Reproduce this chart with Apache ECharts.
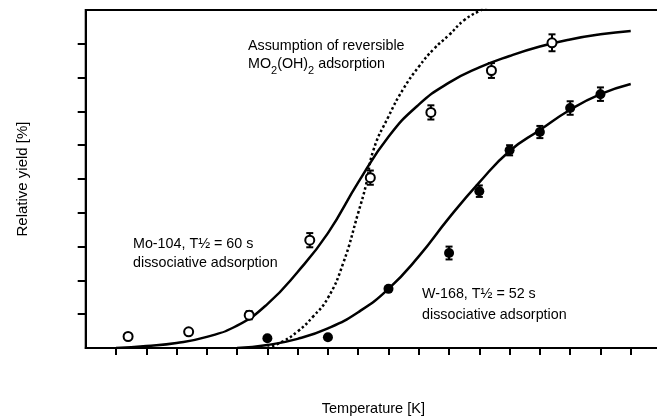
<!DOCTYPE html>
<html>
<head>
<meta charset="utf-8">
<script src="https://cdn.jsdelivr.net/npm/echarts@6/dist/echarts.min.js"></script>
<style>
  html, body { margin: 0; padding: 0; background: #fff; }
  #chart { width: 657px; height: 418px; }
</style>
</head>
<body>
<div id="chart"></div>
<script>
// measured points, Mo-104 (open circles)
var moTemp = [1.4, 3.4, 5.4, 7.4, 9.4, 11.4, 13.4, 15.4];
var moYield = [3.4, 4.8, 9.7, 31.9, 50.4, 69.7, 82.1, 90.3];
var moErr = [0, 0, 1.2, 2.1, 2.1, 2.1, 2.2, 2.5];

// measured points, W-168 (filled circles)
var wTemp = [6, 8, 10, 12, 13, 14, 15, 16, 17];
var wYield = [2.9, 3.2, 17.5, 28.1, 46.4, 58.5, 63.9, 71.0, 75.1];
var wErr = [0, 0, 0, 1.9, 1.7, 1.5, 1.8, 2.0, 2.0];

// fitted curves
var moFitT = [1, 2, 3, 4, 5, 6, 7, 8, 9, 10, 11, 12, 13, 14, 15, 16, 17, 18];
var moFitY = [0, 0.6, 1.5, 3.3, 6.6, 13, 22.5, 34, 49, 62.5, 72, 78.5, 83, 86.4, 89.2, 91.3, 92.8, 93.8];

var wFitT = [5, 6, 7, 8, 9, 10, 11, 12, 13, 14, 15, 16, 17, 18];
var wFitY = [0, 0.9, 2.7, 5.8, 10.6, 17.5, 27.1, 38.5, 49, 58.3, 64.5, 70.5, 75.1, 78.1];

var revT = [6, 6.5, 7, 7.5, 8, 8.5, 9, 9.25, 9.5, 10, 10.5, 11, 11.5, 12, 12.5, 13, 13.5];
var revY = [0, 1.9, 4.9, 9.2, 14.8, 25, 40, 48, 58.5, 68.5, 76.8, 83.2, 88.5, 92.6, 97, 99.7, 102];

var xTicks = [1, 2, 3, 4, 5, 6, 7, 8, 9, 10, 11, 12, 13, 14, 15, 16, 17, 18];
var yTicks = [10, 20, 30, 40, 50, 60, 70, 80, 90];

function pairs(xs, ys) {
    return xs.map(function (x, i) { return [x, ys[i]]; });
}
function triples(xs, ys, es) {
    return xs.map(function (x, i) { return [x, ys[i], es[i]]; });
}

function errorBar(params, api) {
    var x = api.value(0), y = api.value(1), e = api.value(2);
    if (!e) return;
    var top = api.coord([x, y + e]);
    var bot = api.coord([x, y - e]);
    var hw = 3.5;
    var st = { stroke: '#000', lineWidth: 2 };
    return {
        type: 'group',
        children: [
            { type: 'line', shape: { x1: top[0], y1: top[1], x2: bot[0], y2: bot[1] }, style: st },
            { type: 'line', shape: { x1: top[0] - hw, y1: top[1], x2: top[0] + hw, y2: top[1] }, style: st },
            { type: 'line', shape: { x1: bot[0] - hw, y1: bot[1], x2: bot[0] + hw, y2: bot[1] }, style: st }
        ]
    };
}

var font = 'Liberation Sans, Arial, sans-serif';
var chart = echarts.init(document.getElementById('chart'), null, { renderer: 'canvas' });

var option = {
    animation: false,
    backgroundColor: '#fff',
    textStyle: { fontFamily: font },
    grid: {
        left: 85.7, top: 10, width: 575.3, bottom: 70,
        outerBoundsMode: 'none', containLabel: false,
        show: true, borderColor: '#000', borderWidth: 2
    },
    xAxis: {
        type: 'value', min: 0, max: 19, interval: 1,
        name: 'Temperature [K]', nameLocation: 'middle', nameGap: 53,
        nameTextStyle: { fontSize: 14.5, color: '#000', fontFamily: font },
        axisLine: { lineStyle: { color: '#000', width: 2 } },
        axisTick: { length: 7, lineStyle: { color: '#000', width: 2 }, customValues: xTicks },
        axisLabel: { show: false },
        splitLine: { show: false }
    },
    yAxis: {
        type: 'value', min: 0, max: 100, interval: 10,
        name: 'Relative yield [%]', nameLocation: 'middle', nameGap: 55,
        nameTextStyle: { fontSize: 15, color: '#000', fontFamily: font },
        axisLine: { show: true, lineStyle: { color: '#000', width: 2 } },
        axisTick: { show: true, length: 8, lineStyle: { color: '#000', width: 2 }, customValues: yTicks },
        axisLabel: { show: false },
        splitLine: { show: false }
    },
    series: [
        {
            type: 'line', data: pairs(moFitT, moFitY), smooth: 0.5,
            showSymbol: false, lineStyle: { color: '#000', width: 2.5 }, z: 2
        },
        {
            type: 'line', data: pairs(wFitT, wFitY), smooth: 0.5,
            showSymbol: false, lineStyle: { color: '#000', width: 2.5 }, z: 2
        },
        {
            type: 'line', data: pairs(revT, revY), smooth: 0.5,
            showSymbol: false, clip: true,
            lineStyle: { color: '#000', width: 2.5, type: [2.5, 2.5] }, z: 2
        },
        { type: 'custom', renderItem: errorBar, data: triples(moTemp, moYield, moErr), z: 3 },
        { type: 'custom', renderItem: errorBar, data: triples(wTemp, wYield, wErr), z: 3 },
        {
            type: 'scatter', data: pairs(moTemp, moYield), symbol: 'circle', symbolSize: 9,
            itemStyle: { color: '#fff', borderColor: '#000', borderWidth: 2, opacity: 1 }, z: 4
        },
        {
            type: 'scatter', data: pairs(wTemp, wYield), symbol: 'circle', symbolSize: 10,
            itemStyle: { color: '#000', opacity: 1 }, z: 4
        }
    ],
    graphic: [
        {
            type: 'text', left: 248, top: 36,
            style: {
                text: 'Assumption of reversible\n{n|MO}{s|2}{n|(OH)}{s|2}{n| adsorption}',
                fontSize: 14.3, fontFamily: font, fill: '#000', lineHeight: 21,
                rich: {
                    n: { fontSize: 14.3, fontFamily: font, lineHeight: 21, verticalAlign: 'top' },
                    s: { fontSize: 11, fontFamily: font, lineHeight: 14, padding: [8, 0, 0, 0], verticalAlign: 'top' }
                }
            }
        },
        {
            type: 'text', left: 133, top: 234,
            style: { text: 'Mo-104, T\u00bd = 60 s\ndissociative adsorption', fontSize: 14.3, fontFamily: font, fill: '#000', lineHeight: 19.5 }
        },
        {
            type: 'text', left: 422, top: 283,
            style: { text: 'W-168, T\u00bd = 52 s\ndissociative adsorption', fontSize: 14.3, fontFamily: font, fill: '#000', lineHeight: 21.5 }
        }
    ]
};
chart.setOption(option);
</script>
</body>
</html>
